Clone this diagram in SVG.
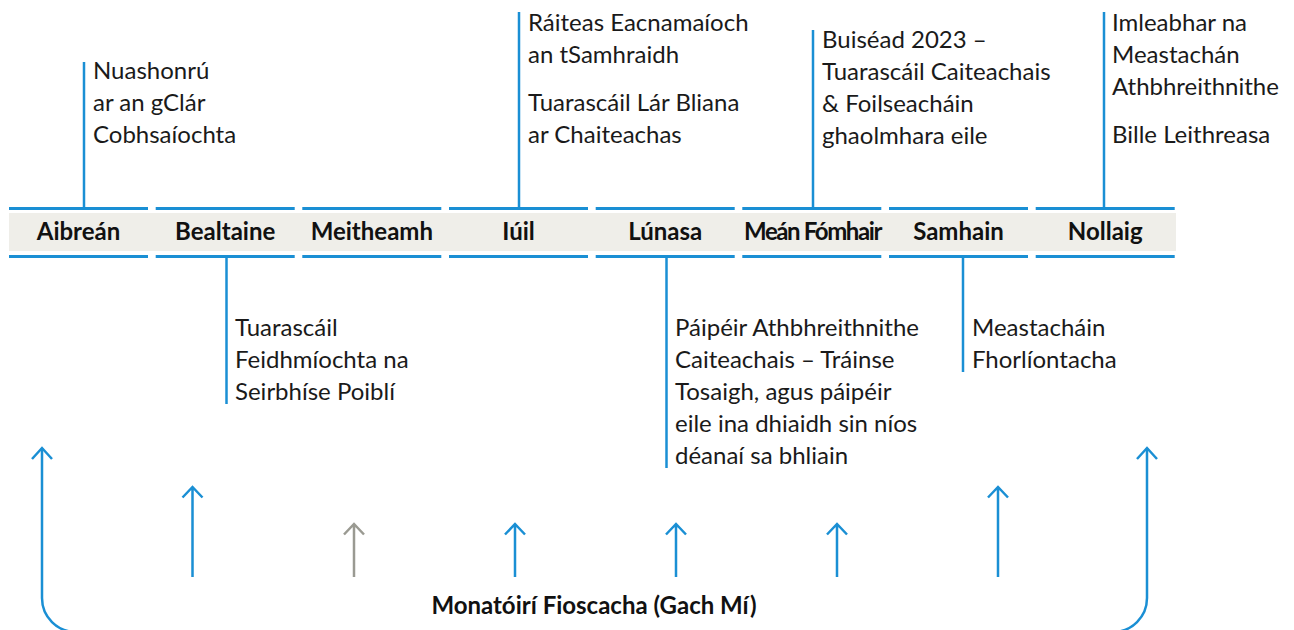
<svg xmlns="http://www.w3.org/2000/svg" width="1294" height="630" viewBox="0 0 1294 630">
<style>
.band{fill:#efeee9}
.seg{stroke:#1a8fd4;stroke-width:3;fill:none}
.ln{stroke:#1a8fd4;stroke-width:2.5;fill:none}
.arr{stroke:#1a8fd4;stroke-width:2.5;fill:none;stroke-linecap:butt}
.arrg{stroke:#9a9a92;stroke-width:2.5;fill:none}
.m{font-family:Lato,"Liberation Sans",sans-serif;font-weight:700;font-size:24px;fill:#111;text-anchor:middle}
.t{font-family:Lato,"Liberation Sans",sans-serif;font-size:24px;fill:#1a1a1a}
.b{font-family:Lato,"Liberation Sans",sans-serif;font-weight:700;font-size:24px;fill:#111;text-anchor:middle}
</style>
<rect class="band" x="9" y="213" width="1167" height="38"/>
<g id="months">
<g id="m1"><path class="seg" d="M9,208.5H148M9,256.5H148"/><text class="m" x="78.5" y="240">Aibreán</text></g>
<g id="m2"><path class="seg" d="M155.7,208.5H294.7M155.7,256.5H294.7"/><text class="m" x="225.2" y="240">Bealtaine</text></g>
<g id="m3"><path class="seg" d="M302.3,208.5H441.3M302.3,256.5H441.3"/><text class="m" x="371.8" y="240">Meitheamh</text></g>
<g id="m4"><path class="seg" d="M449,208.5H588M449,256.5H588"/><text class="m" x="518.5" y="240">Iúil</text></g>
<g id="m5"><path class="seg" d="M595.7,208.5H734.7M595.7,256.5H734.7"/><text class="m" x="665.2" y="240">Lúnasa</text></g>
<g id="m6"><path class="seg" d="M742.3,208.5H881.3M742.3,256.5H881.3"/><text class="m" x="812.5" y="240" letter-spacing="-1.4">Meán Fómhair</text></g>
<g id="m7"><path class="seg" d="M889,208.5H1028M889,256.5H1028"/><text class="m" x="958.5" y="240">Samhain</text></g>
<g id="m8"><path class="seg" d="M1035.7,208.5H1174.7M1035.7,256.5H1174.7"/><text class="m" x="1105.2" y="240">Nollaig</text></g>
</g>
<g id="connectors">
<path class="ln" d="M84,62V208"/>
<path class="ln" d="M519,12V208"/>
<path class="ln" d="M813,30V208"/>
<path class="ln" d="M1104,12V208"/>
<path class="ln" d="M226.5,257V404"/>
<path class="ln" d="M666.5,257V468"/>
<path class="ln" d="M963,257V372"/>
<path class="arr" d="M42,448V598A34,34 0 0 0 76,632H1113A34,34 0 0 0 1147,598V448"/>
<path class="arr" d="M32,459L42,448L52,459M1137,459L1147,448L1157,459"/>
<path class="arr" d="M192.5,577V487M182.5,497.5L192.5,487L202.5,497.5"/>
<path class="arrg" d="M354,577V524M344,534.5L354,524L364,534.5"/>
<path class="arr" d="M515,577V524M505,534.5L515,524L525,534.5"/>
<path class="arr" d="M676,577V524M666,534.5L676,524L686,534.5"/>
<path class="arr" d="M837,577V524M827,534.5L837,524L847,534.5"/>
<path class="arr" d="M998,577V487M988,497.5L998,487L1008,497.5"/>
</g>
<g id="n-aibrean"><text class="t" x="93" y="79">Nuashonrú</text><text class="t" x="93" y="111">ar an gClár</text><text class="t" x="93" y="143">Cobhsaíochta</text></g>
<g id="n-iuil"><text class="t" x="528" y="31">Ráiteas Eacnamaíoch</text><text class="t" x="528" y="63">an tSamhraidh</text><text class="t" x="528" y="111">Tuarascáil Lár Bliana</text><text class="t" x="528" y="143">ar Chaiteachas</text></g>
<g id="n-mean"><text class="t" x="822" y="48">Buiséad 2023 –</text><text class="t" x="822" y="80">Tuarascáil Caiteachais</text><text class="t" x="822" y="112">&amp; Foilseacháin</text><text class="t" x="822" y="144">ghaolmhara eile</text></g>
<g id="n-nollaig"><text class="t" x="1112" y="31">Imleabhar na</text><text class="t" x="1112" y="63">Meastachán</text><text class="t" x="1112" y="95">Athbhreithnithe</text><text class="t" x="1112" y="143">Bille Leithreasa</text></g>
<g id="n-bealtaine"><text class="t" x="235" y="336">Tuarascáil</text><text class="t" x="235" y="368">Feidhmíochta na</text><text class="t" x="235" y="400">Seirbhíse Poiblí</text></g>
<g id="n-lunasa"><text class="t" x="675" y="336">Páipéir Athbhreithnithe</text><text class="t" x="675" y="368">Caiteachais – Tráinse</text><text class="t" x="675" y="400">Tosaigh, agus páipéir</text><text class="t" x="675" y="432">eile ina dhiaidh sin níos</text><text class="t" x="675" y="464">déanaí sa bhliain</text></g>
<g id="n-samhain"><text class="t" x="972" y="336">Meastacháin</text><text class="t" x="972" y="368">Fhorlíontacha</text></g>
<g id="monitor"><text class="b" x="594" y="614">Monatóirí Fioscacha (Gach Mí)</text></g>
</svg>
